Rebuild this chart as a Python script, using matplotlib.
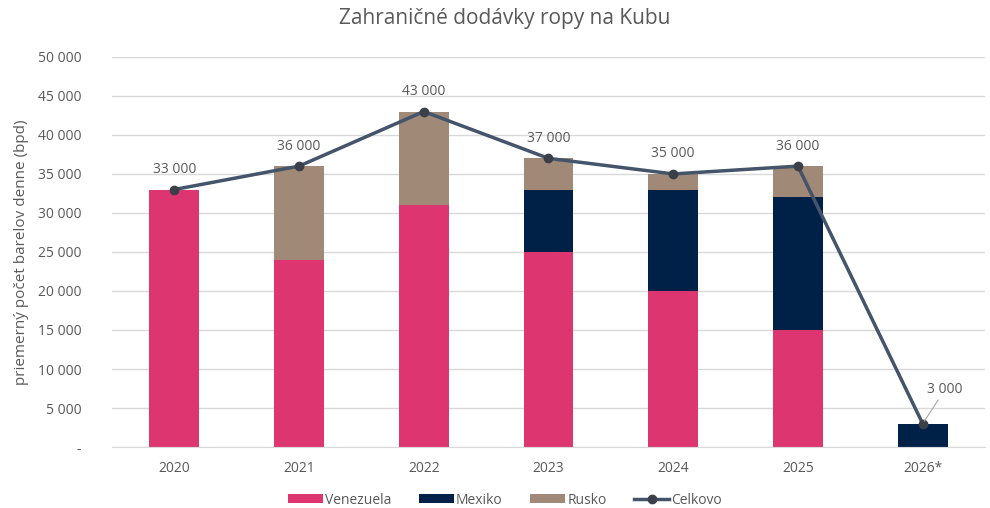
import matplotlib
matplotlib.use('Agg')
import matplotlib.pyplot as plt
import numpy as np
from matplotlib.ticker import FuncFormatter

plt.rcParams['font.family'] = ['Open Sans', 'DejaVu Sans']

years = ['2020', '2021', '2022', '2023', '2024', '2025', '2026*']
venezuela = [33000, 24000, 31000, 25000, 20000, 15000, 0]
mexiko = [0, 0, 0, 8000, 13000, 17000, 3000]
rusko = [0, 12000, 12000, 4000, 2000, 4000, 0]
celkovo = [33000, 36000, 43000, 37000, 35000, 36000, 3000]

c_ven = '#DC3570'
c_mex = '#002147'
c_rus = '#A08A77'
c_line = '#44546A'
c_text = '#595959'

fig = plt.figure(figsize=(9.9, 5.08), dpi=100)
ax = fig.add_axes([0.113, 0.12, 0.882, 0.768])

x = np.arange(len(years))
w = 0.4
b1 = ax.bar(x, venezuela, w, color=c_ven, label='Venezuela', zorder=2)
b2 = ax.bar(x, mexiko, w, bottom=venezuela, color=c_mex, label='Mexiko', zorder=2)
bot2 = [a + b for a, b in zip(venezuela, mexiko)]
b3 = ax.bar(x, rusko, w, bottom=bot2, color=c_rus, label='Rusko', zorder=2)
ln, = ax.plot(x, celkovo, color=c_line, lw=2.5, marker='o', ms=6,
              mfc='#3a3f48', mec='#3a3f48', label='Celkovo', zorder=3)

for i, v in enumerate(celkovo):
    txt = f'{v:,}'.replace(',', ' ')
    if i == len(celkovo) - 1:
        # posledny bod ma popis so spojovacou ciarou
        ax.annotate(txt, (x[i], v), xytext=(16, 19), textcoords='offset points',
                    ha='center', va='bottom', color=c_text, fontsize=10,
                    arrowprops=dict(arrowstyle='-', color='#a6a6a6', lw=0.8,
                                    shrinkA=0, shrinkB=2))
    else:
        ax.annotate(txt, (x[i], v), xytext=(0, 9), textcoords='offset points',
                    ha='center', va='bottom', color=c_text, fontsize=10)

ax.set_xlim(-0.5, len(years) - 0.5)
ax.set_ylim(0, 50000)
ax.set_yticks(range(0, 50001, 5000))
ax.yaxis.set_major_formatter(FuncFormatter(
    lambda v, p: '-' if v == 0 else f'{int(v):,}'.replace(',', ' ')))
ax.set_xticks(x)
ax.set_xticklabels(years)
ax.tick_params(axis='both', length=0, colors=c_text, labelsize=10)
ax.tick_params(axis='x', pad=10)
ax.tick_params(axis='y', pad=22)
ax.grid(axis='y', color='#d9d9d9', lw=1, zorder=0)
for s in ['top', 'right', 'left']:
    ax.spines[s].set_visible(False)
ax.spines['bottom'].set_color('#d9d9d9')

ax.set_ylabel('priemerný počet barelov denne (bpd)', color=c_text, fontsize=11, labelpad=6)
fig.suptitle('Zahraničné dodávky ropy na Kubu', x=0.51, y=0.985, color=c_text, fontsize=15)

fig.legend([b1, b2, b3, ln], ['Venezuela', 'Mexiko', 'Rusko', 'Celkovo'],
           loc='lower center', bbox_to_anchor=(0.51, -0.016), ncol=4, frameon=False,
           fontsize=10, labelcolor=c_text, handlelength=2.5, handleheight=0.6,
           handletextpad=0.15, columnspacing=2.0, borderpad=0.1)

fig.savefig('out.png', dpi=100)
